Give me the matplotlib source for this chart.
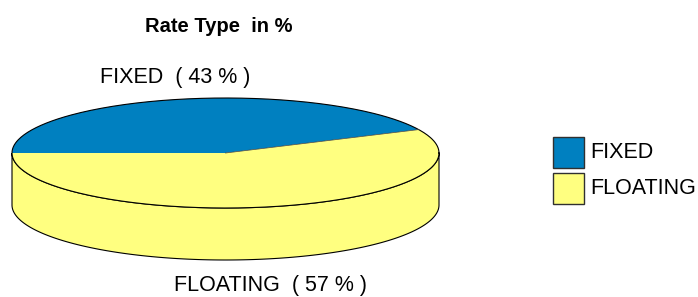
import numpy as np
import matplotlib.pyplot as plt
from matplotlib.patches import Polygon, Rectangle

labels = ['FIXED', 'FLOATING']
shares = [43, 57]
colors = ['#0080C0', '#FFFF80']
title = 'Rate Type  in %'

plt.rcParams['font.family'] = ['Liberation Sans', 'DejaVu Sans']

fig = plt.figure(figsize=(6.98, 2.97), dpi=100)
ax = fig.add_axes([0, 0, 1, 1])
ax.set_xlim(0, 698)
ax.set_ylim(297, 0)
ax.axis('off')

# ellipse geometry in pixels
cx, cy = 225.5, 153
rx, ry = 213.5, 55
depth = 52


def pt(a_deg, dy=0):
    a = np.radians(a_deg)
    return cx + rx * np.cos(a), cy - ry * np.sin(a) + dy


# side wall (front half only)
t = np.linspace(180, 360, 200)
top = np.array([pt(a) for a in t])
bot = np.array([pt(a, depth) for a in t[::-1]])
side = np.vstack([top, bot])
ax.add_patch(Polygon(side, closed=True, facecolor=colors[1], edgecolor='black', lw=0.8))

# top slices, starting at 180 deg going clockwise
start = 180.0
total = sum(shares)
for share, col in zip(shares, colors):
    span = 360.0 * share / total
    angs = np.linspace(start, start - span, 200)
    pts = [(cx, cy)] + [pt(a) for a in angs]
    ax.add_patch(Polygon(pts, closed=True, facecolor=col, edgecolor='none'))
    start -= span

# outlines of the top ellipse
t = np.linspace(0, 360, 400)
ell = np.array([pt(a) for a in t])
ax.plot(ell[:, 0], ell[:, 1], color='black', lw=0.8)
# slice border line
b = 180.0 - 360.0 * shares[0] / total
x2, y2 = pt(b)
ax.plot([cx, x2], [cy, y2], color='#404040', lw=0.5)

ax.text(219, 27, title, ha='center', va='center', fontsize=14.5, fontweight='bold')
ax.text(175, 77, f'{labels[0]}  ( {shares[0]} % )', ha='center', va='center', fontsize=15.5)
ax.text(271, 285, f'{labels[1]}  ( {shares[1]} % )', ha='center', va='center', fontsize=15.5)

# legend, drawn by hand
for i, (lab, col) in enumerate(zip(labels, colors)):
    y0 = 137 + i * 36
    ax.add_patch(Rectangle((553, y0), 31, 31, facecolor=col, edgecolor='#303030', lw=1.0))
    ax.text(590, y0 + 15.5, lab, ha='left', va='center', fontsize=15.5)

fig.savefig('out.png', dpi=100)
